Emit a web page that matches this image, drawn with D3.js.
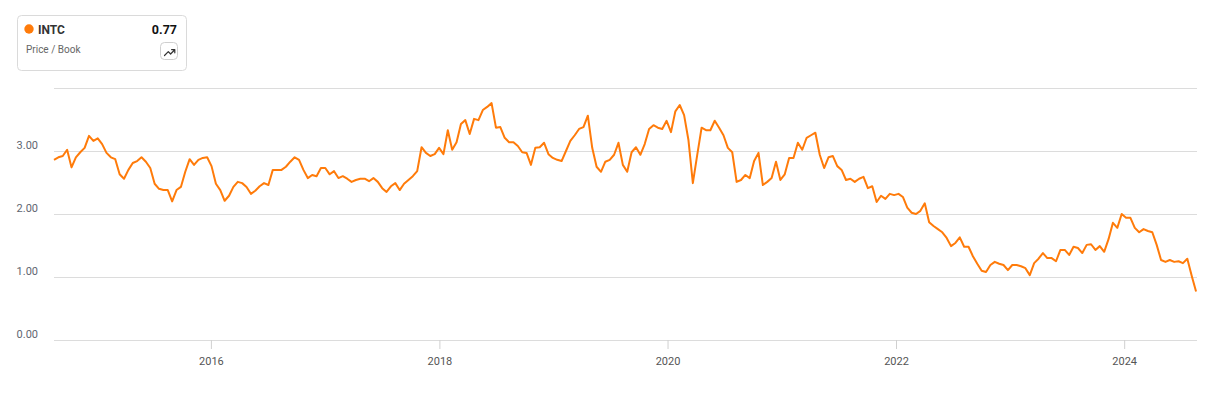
<!DOCTYPE html>
<html lang="en">
<head>
    <meta charset="UTF-8">
    <script src="https://cdn.jsdelivr.net/npm/d3@7"></script>
    <title>INTC Price / Book</title>
    <style>
        body { margin: 0; background: #fff; font-family: Roboto, "Noto Sans", sans-serif; }
        svg { display: block; }
    </style>
</head>
<body>
    <div id="chart"></div>

    <script>
        // ticker + metric shown in the legend card
        const ticker = "INTC";
        const metric = "Price / Book";
        const lastValue = "0.77";

        // one reading every two weeks, starting mid Aug 2014
        const startDate = new Date(2014, 7, 17);
        const stepDays = 14;
        const pbValues = [
            2.86, 2.90, 2.92, 3.02, 2.74, 2.90, 2.98, 3.05, 3.24, 3.16,
            3.20, 3.11, 2.97, 2.90, 2.87, 2.63, 2.56, 2.70, 2.81, 2.84,
            2.90, 2.83, 2.73, 2.48, 2.40, 2.38, 2.38, 2.20, 2.38, 2.43,
            2.67, 2.87, 2.78, 2.86, 2.89, 2.90, 2.76, 2.48, 2.38, 2.21,
            2.29, 2.43, 2.51,
            2.49, 2.43, 2.32, 2.37, 2.44, 2.49, 2.46, 2.70, 2.70, 2.70,
            2.75, 2.83, 2.90, 2.86, 2.70, 2.57, 2.62, 2.60, 2.73, 2.73,
            2.63, 2.68, 2.57, 2.60, 2.56, 2.51, 2.54, 2.56, 2.56, 2.52,
            2.57, 2.51, 2.41, 2.35, 2.44, 2.49, 2.38, 2.48, 2.54, 2.60,
            2.68, 3.06, 2.97, 2.92,
            2.95, 3.05, 2.95, 3.33, 3.02, 3.14, 3.43, 3.49, 3.27, 3.51,
            3.49, 3.65, 3.70, 3.76, 3.37, 3.38, 3.21, 3.14, 3.14, 3.08,
            2.98, 2.97, 2.78, 3.05, 3.06, 3.13, 2.95, 2.89, 2.86, 2.84,
            3.00, 3.16, 3.25, 3.35, 3.38, 3.56, 3.05, 2.75, 2.67, 2.83,
            2.86, 2.94, 3.13, 2.78,
            2.67, 2.98, 3.06, 2.94, 3.11, 3.35, 3.41, 3.37, 3.35, 3.48,
            3.30, 3.63, 3.73, 3.57, 3.17, 2.49, 2.94, 3.37, 3.33, 3.33,
            3.48, 3.37, 3.25, 3.05, 2.98, 2.51, 2.54, 2.62, 2.57, 2.84,
            2.97, 2.46, 2.51, 2.57, 2.83, 2.54, 2.63, 2.89, 2.89, 3.13,
            3.02, 3.21, 3.25,
            3.29, 2.94, 2.73, 2.90, 2.92, 2.76, 2.70, 2.54, 2.56, 2.51,
            2.56, 2.59, 2.41, 2.44, 2.19, 2.29, 2.24, 2.32, 2.30, 2.32,
            2.27, 2.10, 2.02, 2.00, 2.05, 2.17, 1.87, 1.81, 1.76, 1.71,
            1.62, 1.49, 1.54, 1.63, 1.48, 1.48, 1.33, 1.21, 1.10, 1.08,
            1.19, 1.24, 1.21, 1.19,
            1.11, 1.19, 1.19, 1.17, 1.14, 1.03, 1.22, 1.29, 1.38, 1.30,
            1.30, 1.25, 1.43, 1.43, 1.35, 1.48, 1.46, 1.38, 1.51, 1.52,
            1.43, 1.49, 1.40, 1.60, 1.86, 1.78, 2.00, 1.94, 1.94, 1.78,
            1.71, 1.76, 1.73, 1.71, 1.51, 1.27, 1.24, 1.27, 1.24, 1.25,
            1.22, 1.29, 1.02, 0.77
        ];

        // axis ticks
        const yTicks = [0, 1, 2, 3, 4];
        const yLabelled = [0, 1, 2, 3];
        const xTickYears = [2016, 2018, 2020, 2022, 2024];

        /*------------------- Window setting --------------------*/
        const width = 1214;
        const height = 393;
        const plot = { left: 54, right: 1197, top: 88, bottom: 340 };
        const lineColor = "#ff7b0a";

        const data = pbValues.map((v, i) => ({
            date: d3.timeDay.offset(startDate, i * stepDays),
            value: v
        }));

        const svg = d3.select("#chart").append("svg")
            .attr("width", width)
            .attr("height", height);

        const x = d3.scaleTime()
            .domain([startDate, new Date(2024, 7, 21)])
            .range([plot.left, plot.right]);

        const y = d3.scaleLinear()
            .domain([0, 4])
            .range([plot.bottom, plot.top]);

        // horizontal gridlines
        svg.append("g")
            .selectAll("line")
            .data(yTicks)
            .enter()
            .append("line")
            .attr("x1", plot.left)
            .attr("x2", plot.right)
            .attr("y1", d => y(d) + 0.5)
            .attr("y2", d => y(d) + 0.5)
            .attr("stroke", "#dcdcdc")
            .attr("stroke-width", 1);

        // y labels sit just above their gridline
        svg.append("g")
            .selectAll("text")
            .data(yLabelled)
            .enter()
            .append("text")
            .attr("x", 38)
            .attr("y", d => y(d) - 2)
            .attr("text-anchor", "end")
            .attr("font-size", 11)
            .attr("fill", "#5f6670")
            .text(d => d3.format(".2f")(d));

        // x axis
        const xAxis = d3.axisBottom(x)
            .tickValues(xTickYears.map(yr => new Date(yr, 0, 1)))
            .tickFormat(d3.timeFormat("%Y"))
            .tickSize(9)
            .tickPadding(8);

        const gx = svg.append("g")
            .attr("transform", `translate(0,${plot.bottom})`)
            .call(xAxis);
        gx.select(".domain").remove();
        gx.selectAll(".tick line").attr("stroke", "#d0d0d0");
        gx.selectAll(".tick text")
            .attr("font-size", 11)
            .attr("font-family", "Roboto, sans-serif")
            .attr("fill", "#555");

        // the series
        const line = d3.line()
            .x(d => x(d.date))
            .y(d => y(d.value));

        svg.append("path")
            .datum(data)
            .attr("d", line)
            .attr("fill", "none")
            .attr("stroke", lineColor)
            .attr("stroke-width", 2)
            .attr("stroke-linejoin", "round");

        /*------------------- Legend card --------------------*/
        const card = svg.append("g");
        card.append("rect")
            .attr("x", 17.5).attr("y", 15.5)
            .attr("width", 169).attr("height", 55)
            .attr("rx", 4)
            .attr("fill", "#fff")
            .attr("stroke", "#dadada");

        card.append("circle")
            .attr("cx", 29).attr("cy", 29)
            .attr("r", 4.7)
            .attr("fill", lineColor);

        card.append("text")
            .attr("x", 38).attr("y", 33.5)
            .attr("font-size", 12)
            .attr("font-weight", "bold")
            .attr("fill", "#333")
            .text(ticker);

        card.append("text")
            .attr("x", 177).attr("y", 33.5)
            .attr("text-anchor", "end")
            .attr("font-size", 12.5)
            .attr("font-weight", "bold")
            .attr("fill", "#111")
            .text(lastValue);

        card.append("text")
            .attr("x", 26).attr("y", 53)
            .attr("font-size", 10)
            .attr("fill", "#666")
            .text(metric);

        // little trending-up button
        card.append("rect")
            .attr("x", 160.5).attr("y", 42.5)
            .attr("width", 17).attr("height", 17)
            .attr("rx", 4)
            .attr("fill", "#fff")
            .attr("stroke", "#cfcfcf");

        card.append("path")
            .attr("d", "M164.5,55.5 L168.3,51.7 L170.6,54 L174.5,50 M171.6,49.6 L174.8,49.6 L174.8,52.8")
            .attr("fill", "none")
            .attr("stroke", "#333")
            .attr("stroke-width", 1.2)
            .attr("stroke-linecap", "round")
            .attr("stroke-linejoin", "round");
    </script>
</body>
</html>
